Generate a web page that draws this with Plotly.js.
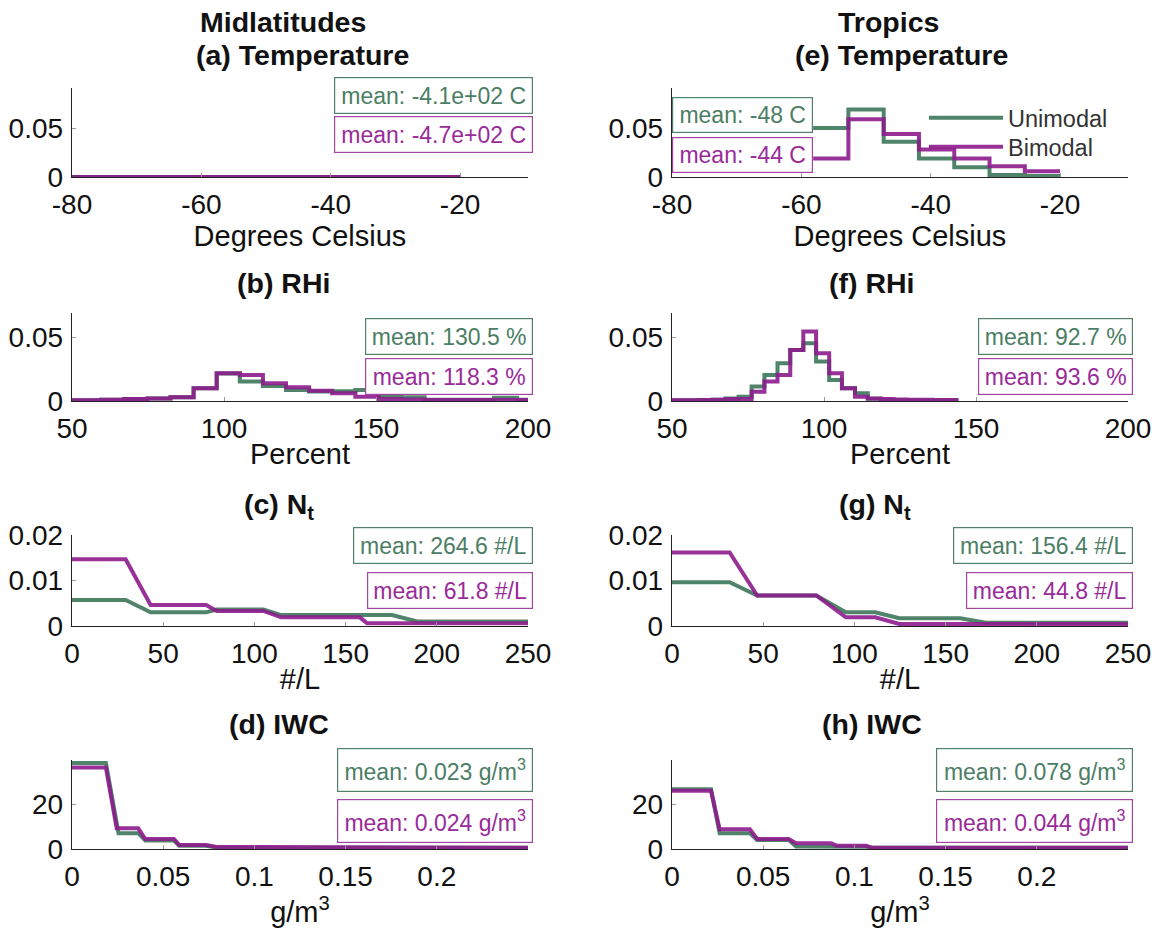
<!DOCTYPE html>
<html><head><meta charset="utf-8">
<script src="https://cdn.plot.ly/plotly-3.0.1.min.js"></script>
<style>html,body{margin:0;padding:0;background:#fff}</style>
</head><body><div id="chart" style="width:1159px;height:930px"></div>
<script>
// ---------------- DATA ----------------
const seriesNames = ['Unimodal', 'Bimodal'];
const columnTitles = ['Midlatitudes', 'Tropics'];
const panelTitles = ['(a) Temperature', '(b) RHi', '(c) N<sub>t</sub>', '(d) IWC',
                     '(e) Temperature', '(f) RHi', '(g) N<sub>t</sub>', '(h) IWC'];
const axisTitles = ['Degrees Celsius', 'Percent', '#/L', 'g/m<sup>3</sup>'];
const meanUni = ['mean: -4.1e+02 C', 'mean: 130.5 %', 'mean: 264.6 #/L', 'mean: 0.023 g/m<sup>3</sup>',
                 'mean: -48 C', 'mean: 92.7 %', 'mean: 156.4 #/L', 'mean: 0.078 g/m<sup>3</sup>'];
const meanBi  = ['mean: -4.7e+02 C', 'mean: 118.3 %', 'mean: 61.8 #/L', 'mean: 0.024 g/m<sup>3</sup>',
                 'mean: -44 C', 'mean: 93.6 %', 'mean: 44.8 #/L', 'mean: 0.044 g/m<sup>3</sup>'];

// Temperature histograms (bin edges, pdf per bin; null = no line drawn)
const tempEdges = [-80, -74.55, -69.09, -63.64, -58.18, -52.73, -47.27, -41.82, -36.36, -30.91, -25.45, -20];
const tempMidUni  = [0, 0, 0, 0, 0, 0, 0, 0, 0, 0, 0];
const tempMidBi   = [0, 0, 0, 0, 0, 0, 0, 0, 0, 0, 0];
const tempTropUni = [null, null, null, null, 0.050, 0.069, 0.036, 0.019, 0.010, 0.002, 0.001];
const tempTropBi  = [null, null, null, null, 0.019, 0.059, 0.044, 0.028, 0.019, 0.011, 0.006];

// RHi histograms
const rhiMidEdges = [50, 59.6, 67.2, 74.8, 82.4, 90, 97.6, 105.2, 112.8, 120.4, 128, 135.6, 143.2, 150.8, 158.4, 166, 173.6, 181.2, 188.8, 196.4, 200];
const rhiMidUni = [0.0005, 0.001, 0.0015, 0.002, 0.003, 0.0100, 0.0215, 0.0152, 0.0118, 0.0086, 0.0074, 0.0076, 0.0086, 0.0034, 0.0030, 0.0010, 0.0010, 0.0010, 0.0025, 0.0010];
const rhiMidBi  = [0.0005, 0.001, 0.0015, 0.002, 0.003, 0.0100, 0.0217, 0.0204, 0.0139, 0.0107, 0.0081, 0.0060, 0.0034, 0.0016, 0.0012, 0.0008, 0.0008, 0.0008, 0.0008, 0.0008];
const rhiTropEdges = [50, 54.9, 59.1, 63.4, 67.6, 71.9, 76.2, 80.4, 84.7, 88.9, 93.2, 97.4, 101.7, 105.9, 110.2, 114.4, 118.7, 122.9, 127.2, 131.4, 135.7, 139.9, 144.2];
const rhiTropUni = [0.0005, 0.0005, 0.0008, 0.001, 0.002, 0.0034, 0.0113, 0.0204, 0.0296, 0.0400, 0.0453, 0.0309, 0.0165, 0.0100, 0.0060, 0.0018, 0.0008, 0.0005, 0.0005, 0.0003, 0.0003, 0.0003];
const rhiTropBi  = [0.0005, 0.0005, 0.0008, 0.001, 0.0015, 0.0015, 0.0073, 0.0152, 0.0204, 0.0400, 0.0545, 0.0374, 0.0217, 0.0100, 0.0034, 0.0020, 0.0015, 0.0012, 0.0010, 0.0010, 0.0008, 0.0008];

// Nt distributions (vertex positions #/L, pdf)
const ntMidUniX = [0, 29.4, 43.1, 73.5, 79.4, 104.9, 114.7, 175.5, 189.2, 250];
const ntMidUniY = [0.0057, 0.0057, 0.0030, 0.0030, 0.0036, 0.0036, 0.0024, 0.0024, 0.0010, 0.0010];
const ntMidBiX  = [0, 29.4, 43.1, 73.5, 79.4, 104.9, 114.7, 157.8, 161.8, 250];
const ntMidBiY  = [0.01465, 0.01465, 0.0046, 0.0046, 0.0033, 0.0033, 0.0019, 0.0019, 0.0006, 0.0006];
const ntTropUniX = [0, 31.6, 46.7, 79.1, 95.3, 111.4, 124.6, 158, 172.1, 250];
const ntTropUniY = [0.0096, 0.0096, 0.0067, 0.0067, 0.0030, 0.0030, 0.0017, 0.0017, 0.0007, 0.0007];
const ntTropBiX  = [0, 31.6, 46.7, 79.1, 95.3, 111.4, 124.6, 250];
const ntTropBiY  = [0.01615, 0.01615, 0.0067, 0.0067, 0.0019, 0.0019, 0.00044, 0.00044];

// IWC distributions (vertex positions g/m3, pdf)
const iwcMidUniX = [0, 0.0186, 0.0255, 0.0363, 0.0402, 0.0559, 0.0588, 0.0735, 0.0794, 0.25];
const iwcMidUniY = [38.6, 38.6, 7.1, 7.1, 3.8, 3.8, 1.5, 1.5, 0.6, 0.6];
const iwcMidBiX  = [0, 0.0186, 0.0245, 0.0363, 0.0402, 0.0559, 0.0588, 0.0735, 0.0794, 0.25];
const iwcMidBiY  = [36.6, 36.6, 9.3, 9.3, 4.5, 4.5, 1.8, 1.8, 0.9, 0.6];
const iwcTropUniX = [0, 0.0214, 0.0261, 0.0427, 0.0467, 0.0639, 0.068, 0.0872, 0.0902, 0.1064, 0.1094, 0.25];
const iwcTropUniY = [26.9, 26.9, 7.1, 7.1, 4.1, 4.1, 1.1, 1.1, 1.0, 1.0, 0.6, 0.6];
const iwcTropBiX  = [0, 0.0214, 0.0261, 0.0427, 0.0467, 0.0639, 0.068, 0.0872, 0.0902, 0.1064, 0.1094, 0.25];
const iwcTropBiY  = [26.2, 26.2, 8.9, 8.9, 4.5, 4.5, 2.6, 2.6, 1.5, 1.5, 0.6, 0.6];

// Axis ticks
const tempTicks = [-80, -60, -40, -20];
const rhiTicks = [50, 100, 150, 200];
const ntTicks = [0, 50, 100, 150, 200, 250];
const iwcTicks = [0, 0.05, 0.1, 0.15, 0.2];
const iwcTickText = ['0', '0.05', '0.1', '0.15', '0.2'];
const pdfTicksA = [0, 0.05];
const pdfTicksC = [0, 0.01, 0.02];
const pdfTicksD = [0, 20];

// ---------------- STYLE / LAYOUT ----------------
const W = 1159, H = 930;
const GREEN = '#3c775a', MAG = '#8d1c8d';
const GREEN_TXT = '#4b7e64', MAG_TXT = '#992b99';
const FONT = 'Liberation Sans, Arial, Helvetica, sans-serif';
const colX = [[72, 528], [672, 1128]];
const rowY = [[88, 177], [313, 401], [535, 626], [760, 849]];
const px2x = p => p / W;
const px2y = p => 1 - p / H;

function stairs(edges, vals) {
  return {x: edges.slice(), y: vals.concat([vals[vals.length - 1]]), shape: 'hv'};
}
function poly(xs, ys) { return {x: xs, y: ys, shape: 'linear'}; }

const panelData = [
  [stairs(tempEdges, tempMidUni), stairs(tempEdges, tempMidBi)],
  [stairs(rhiMidEdges, rhiMidUni), stairs(rhiMidEdges, rhiMidBi)],
  [poly(ntMidUniX, ntMidUniY), poly(ntMidBiX, ntMidBiY)],
  [poly(iwcMidUniX, iwcMidUniY), poly(iwcMidBiX, iwcMidBiY)],
  [stairs(tempEdges, tempTropUni), stairs(tempEdges, tempTropBi)],
  [stairs(rhiTropEdges, rhiTropUni), stairs(rhiTropEdges, rhiTropBi)],
  [poly(ntTropUniX, ntTropUniY), poly(ntTropBiX, ntTropBiY)],
  [poly(iwcTropUniX, iwcTropUniY), poly(iwcTropBiX, iwcTropBiY)]
];
const xRanges = [[-80, -9.5], [50, 200], [0, 250], [0, 0.25]];
const yRanges = [[0, 0.091], [0, 0.069], [0, 0.02], [0, 40]];
const xTickVals = [tempTicks, rhiTicks, ntTicks, iwcTicks];
const xTickText = [tempTicks.map(String), rhiTicks.map(String), ntTicks.map(String), iwcTickText];
const yTickVals = [pdfTicksA, pdfTicksA, pdfTicksC, pdfTicksD];
const yTickText = [['0', '0.05'], ['0', '0.05'], ['0', '0.01', '0.02'], ['0', '20']];

// annotation boxes: [leftUni, leftBi, right, cyUni, cyBi, height]
const boxes = [
  [334, 334, 533, 95, 135, 37],
  [365, 365, 533, 337, 376, 37],
  [353, 367, 533, 545, 590, 37],
  [337, 337, 533, 770, 821, 44],
  [672, 672, 813, 114.5, 154.5, 36],
  [978, 978, 1133, 337, 376, 37],
  [953, 966, 1133, 545, 590, 37],
  [936, 936, 1133, 770, 821, 44]
];
const titleX = [302, 283, 279, 279, 901, 871, 875, 872];
const titleY = [55, 283, 506, 724];
const colTitleX = [283, 888];

const traces = [];
const legendStyle = {xanchor: 'left', yanchor: 'middle', bgcolor: 'rgba(0,0,0,0)',
  font: {size: 23.5, color: '#333', family: FONT}, itemwidth: 74, borderwidth: 0};
const layout = {
  width: W, height: H,
  margin: {l: 0, r: 0, t: 0, b: 0},
  paper_bgcolor: '#fff', plot_bgcolor: '#fff',
  font: {family: FONT, color: '#111'},
  showlegend: true,
  legend: Object.assign({x: px2x(924), y: px2y(118)}, legendStyle),
  legend2: Object.assign({x: px2x(924), y: px2y(147)}, legendStyle),
  annotations: [],
  shapes: []
};

for (let p = 0; p < 8; p++) {
  const col = p < 4 ? 0 : 1, row = p % 4;
  const ax = p === 0 ? '' : String(p + 1);
  const [d1, d2] = panelData[p];
  [[d1, GREEN, 0], [d2, MAG, 1]].forEach(([d, c, s]) => {
    traces.push({
      type: 'scatter', mode: 'lines', x: d.x, y: d.y,
      line: {color: c, width: 4, shape: d.shape},
      opacity: 0.9, connectgaps: false,
      name: seriesNames[s], showlegend: p === 4,
      legend: s === 0 ? 'legend' : 'legend2',
      xaxis: 'x' + ax, yaxis: 'y' + ax, hoverinfo: 'skip'
    });
  });
  const common = {showline: true, linecolor: '#222', linewidth: 1.3, ticks: 'inside',
    ticklen: 4, tickwidth: 1, tickcolor: '#999', showgrid: false, zeroline: false,
    tickfont: {size: 28, color: '#111', family: FONT}, fixedrange: true, mirror: false};
  layout['xaxis' + ax] = Object.assign({}, common, {
    domain: [px2x(colX[col][0]), px2x(colX[col][1])], range: xRanges[row],
    tickmode: 'array', tickvals: xTickVals[row], ticktext: xTickText[row],
    anchor: 'y' + ax, ticklabelstandoff: 2,
    title: {text: axisTitles[row], font: {size: 29, color: '#111', family: FONT}, standoff: 0}
  });
  layout['yaxis' + ax] = Object.assign({}, common, {
    domain: [px2y(rowY[row][1]), px2y(rowY[row][0])], range: yRanges[row],
    tickmode: 'array', tickvals: yTickVals[row], ticktext: yTickText[row],
    anchor: 'x' + ax, ticklabelstandoff: 2
  });
  // panel title
  layout.annotations.push({xref: 'paper', yref: 'paper', x: px2x(titleX[p]),
    y: px2y(titleY[row]), xanchor: 'center', yanchor: 'middle', showarrow: false,
    text: '<b>' + panelTitles[p] + '</b>', font: {size: 28.5, color: '#111', family: FONT}});
  // mean boxes
  const b = boxes[p];
  [[meanUni[p], b[0], b[3], GREEN_TXT, '#52806a'], [meanBi[p], b[1], b[4], MAG_TXT, '#a346a3']].forEach(([t, l, cy, fc, bc]) => {
    layout.annotations.push({xref: 'paper', yref: 'paper', x: px2x(b[2]), y: px2y(cy),
      xanchor: 'right', yanchor: 'middle', showarrow: false, text: t,
      width: b[2] - l - 2, height: b[5] - 2, borderpad: 0, borderwidth: 1.2,
      bordercolor: bc, bgcolor: '#fff', align: 'center', valign: 'middle',
      font: {size: 23, color: fc, family: FONT}});
  });
}
// column titles
[0, 1].forEach(col => {
  layout.annotations.push({xref: 'paper', yref: 'paper', x: px2x(colTitleX[col]),
    y: px2y(22), xanchor: 'center', yanchor: 'middle', showarrow: false,
    text: '<b>' + columnTitles[col] + '</b>', font: {size: 28.5, color: '#111', family: FONT}});
});

Plotly.newPlot('chart', traces, layout, {displayModeBar: false, staticPlot: true});
</script></body></html>
